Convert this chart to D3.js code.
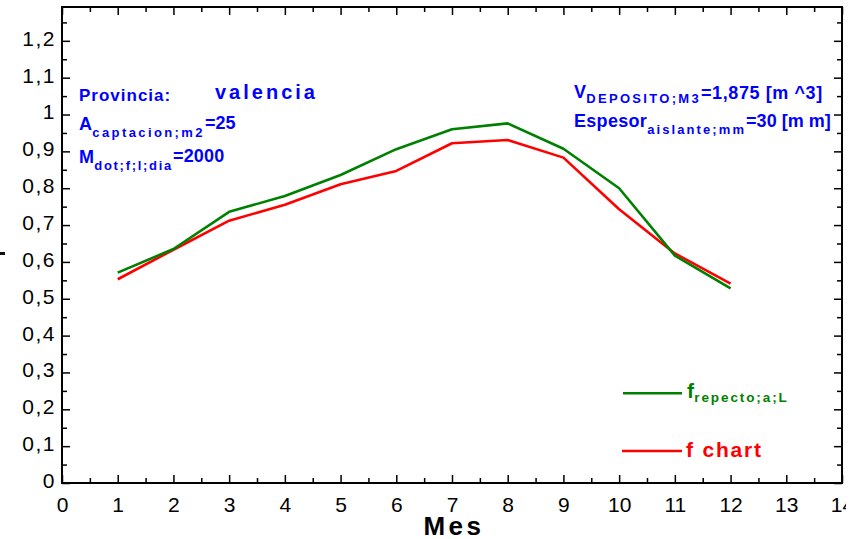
<!DOCTYPE html>
<html>
<head>
<meta charset="utf-8">
<script src="https://cdn.jsdelivr.net/npm/d3@7"></script>
<style>
  html, body { margin: 0; padding: 0; background: #fff; }
  svg { display: block; font-family: "Liberation Sans", Arial, sans-serif; }
</style>
</head>
<body>
<svg id="chart" width="863" height="539"></svg>
<script>
// Monthly fraction values
const months = [1, 2, 3, 4, 5, 6, 7, 8, 9, 10, 11, 12];
const fRespecto = [0.571, 0.635, 0.736, 0.779, 0.836, 0.906, 0.960, 0.976, 0.907, 0.800, 0.617, 0.528];
const fChart = [0.553, 0.633, 0.712, 0.755, 0.811, 0.847, 0.922, 0.931, 0.883, 0.743, 0.623, 0.541];

const xTicks = d3.range(0, 15, 1);
const xMinor = d3.range(0.5, 14, 1);
const yTicks = d3.range(0, 13).map(i => i / 10);
const yMinor = d3.range(0, 13).map(i => i / 10 + 0.05);

const svg = d3.select("#chart");
const plotL = 62, plotR = 842, plotT = 7, plotB = 483;

const x = d3.scaleLinear().domain([0, 14]).range([plotL, plotR]);
const y = d3.scaleLinear().domain([0, 1.2918]).range([plotB, plotT]);

const fmt = v => (Math.round(v * 10) / 10).toString().replace(".", ",");

// Frame
svg.append("rect")
  .attr("x", plotL).attr("y", plotT)
  .attr("width", plotR - plotL).attr("height", plotB - plotT)
  .attr("fill", "none").attr("stroke", "#000").attr("stroke-width", 2);

// Axes with inward ticks
const axisStyle = g => {
  g.select(".domain").remove();
  g.selectAll(".tick line").attr("stroke", "#000").attr("stroke-width", 1.5);
};

svg.append("g").attr("transform", `translate(0,${plotB})`)
  .call(d3.axisBottom(x).tickValues(xTicks).tickSize(-8).tickPadding(14).tickFormat(d => d))
  .call(axisStyle)
  .call(g => g.selectAll(".tick text").attr("font-size", 21).attr("fill", "#000")
    .attr("font-family", "Liberation Sans, Arial, sans-serif"));
svg.append("g").attr("transform", `translate(0,${plotB})`)
  .call(d3.axisBottom(x).tickValues(xMinor).tickSize(-5).tickFormat(""))
  .call(axisStyle);

svg.append("g").attr("transform", `translate(0,${plotT})`)
  .call(d3.axisTop(x).tickValues(xTicks).tickSize(-8).tickFormat(""))
  .call(axisStyle);
svg.append("g").attr("transform", `translate(0,${plotT})`)
  .call(d3.axisTop(x).tickValues(xMinor).tickSize(-5).tickFormat(""))
  .call(axisStyle);

svg.append("g").attr("transform", `translate(${plotL},0)`)
  .call(d3.axisLeft(y).tickValues(yTicks).tickSize(-8).tickPadding(6).tickFormat(fmt))
  .call(axisStyle)
  .call(g => g.selectAll(".tick text").attr("font-size", 21).attr("fill", "#000")
    .attr("dy", "0.21em")
    .attr("font-family", "Liberation Sans, Arial, sans-serif").attr("letter-spacing", 1.5));
svg.append("g").attr("transform", `translate(${plotL},0)`)
  .call(d3.axisLeft(y).tickValues(yMinor).tickSize(-5).tickFormat(""))
  .call(axisStyle);

svg.append("g").attr("transform", `translate(${plotR},0)`)
  .call(d3.axisRight(y).tickValues(yTicks).tickSize(-8).tickFormat(""))
  .call(axisStyle);
svg.append("g").attr("transform", `translate(${plotR},0)`)
  .call(d3.axisRight(y).tickValues(yMinor).tickSize(-5).tickFormat(""))
  .call(axisStyle);

// Axis titles
svg.append("text")
  .attr("x", 454).attr("y", 535)
  .attr("text-anchor", "middle")
  .attr("font-size", 26).attr("font-weight", "bold").attr("letter-spacing", 3.5)
  .attr("fill", "#000")
  .text("Mes");

svg.append("rect").attr("x", 0).attr("y", 252).attr("width", 5).attr("height", 3).attr("fill", "#111");

// Series lines
const line = d3.line().x((d, i) => x(months[i])).y(d => y(d));

svg.append("path").datum(fChart)
  .attr("d", line).attr("fill", "none")
  .attr("stroke", "#ff0000").attr("stroke-width", 2.6).attr("stroke-linejoin", "round");

svg.append("path").datum(fRespecto)
  .attr("d", line).attr("fill", "none")
  .attr("stroke", "#008000").attr("stroke-width", 2.6).attr("stroke-linejoin", "round");

// Annotation text helper: main text + subscript + trailing text
const blue = "#0000ff";
function annot(xp, yp, main, sub, tail, opts = {}) {
  const t = svg.append("text")
    .attr("x", xp).attr("y", yp)
    .attr("fill", opts.color || blue)
    .attr("font-weight", "bold")
    .attr("font-size", opts.size || 18)
    .attr("letter-spacing", opts.ls != null ? opts.ls : 0.3);
  t.append("tspan").text(main);
  if (sub) {
    t.append("tspan").attr("dy", opts.subDy || 6).attr("font-size", opts.subSize || 13)
      .attr("letter-spacing", opts.subLs != null ? opts.subLs : 2.4).text(sub);
  }
  if (tail) {
    t.append("tspan").attr("dy", -(opts.subDy || 6) - (opts.tailRaise || 0))
      .attr("letter-spacing", opts.tailLs != null ? opts.tailLs : 0.3).text(tail);
  }
  return t;
}

annot(79, 101, "Provincia:", null, null, { size: 17, ls: 1.0 });
svg.append("text").attr("x", 215).attr("y", 99)
  .attr("fill", blue).attr("font-weight", "bold").attr("font-size", 20).attr("letter-spacing", 3)
  .text("valencia");

annot(79, 130, "A", "captacion;m2", "=25", { size: 18, subDy: 7, tailRaise: 1.5, subLs: 2.4, tailLs: 0 });
annot(79, 163, "M", "dot;f;l;dia", "=2000", { size: 18, subDy: 7, tailRaise: 1.5, subLs: 1.7, tailLs: 0.2 });

annot(574, 98, "V", "DEPOSITO;M3", "=1,875 [m ^3]", { size: 18, subDy: 5, tailRaise: -1, subLs: 2.3, tailLs: 0.6 });
annot(574, 127, "Espesor", "aislante;mm", "=30 [m m]", { size: 18, subDy: 6.5, tailRaise: 0, ls: 0.3, subLs: 2.1, tailLs: 0 });

// Legend
svg.append("line").attr("x1", 623).attr("x2", 682).attr("y1", 393.3).attr("y2", 393.3)
  .attr("stroke", "#008000").attr("stroke-width", 2.6);
annot(687, 397.5, "f", "repecto;a;L", null, { color: "#008000", size: 21, subSize: 13.5, subDy: 4, subLs: 1.9 });

svg.append("line").attr("x1", 622).attr("x2", 682).attr("y1", 451).attr("y2", 451)
  .attr("stroke", "#ff0000").attr("stroke-width", 2.6);
svg.append("text").attr("x", 686).attr("y", 457.3)
  .attr("fill", "#ff0000").attr("font-weight", "bold").attr("font-size", 21).attr("letter-spacing", 1.8)
  .text("f chart");

// Page edge beyond the drawing area
svg.append("rect").attr("x", 846).attr("y", 0).attr("width", 17).attr("height", 539).attr("fill", "#fff");
</script>
</body>
</html>
